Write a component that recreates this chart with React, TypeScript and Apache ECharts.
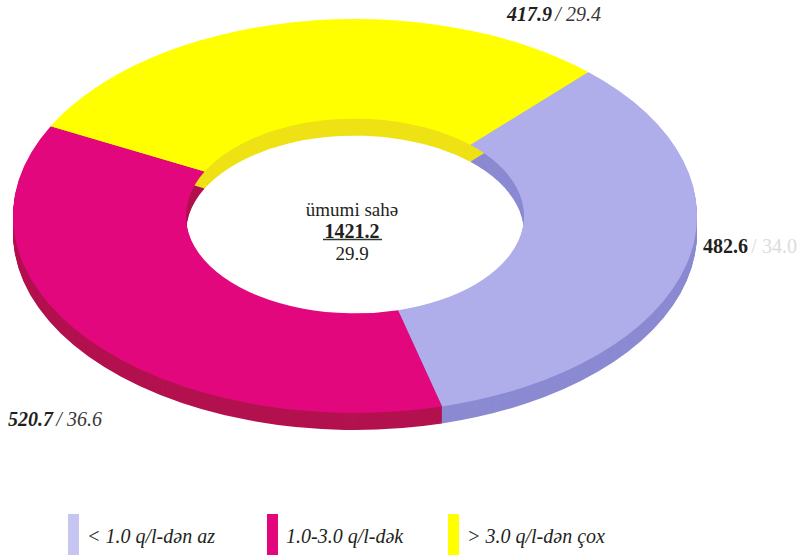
import React, { useEffect, useRef } from "react";
import * as echarts from "echarts";

// ---- data ----
const categories = ["< 1.0 q/l-dən az", "1.0-3.0 q/l-dək", "> 3.0 q/l-dən çox"];
const areas = [482.6, 520.7, 417.9];
const shares = [34.0, 36.6, 29.4];
const totalLabel = "ümumi sahə";
const totalArea = 1421.2;
const totalSecond = "29.9";

// ---- styles ----
const topColors = ["#b0aeea", "#e2077d", "#ffff00"];
const sideColors = ["#8b8ad2", "#b3114f", "#eee215"];
const legendColors = ["#c6c4f0", "#e2077d", "#ffff00"];
const FONT = "'Liberation Serif', 'Times New Roman', serif";

const CX = 355;
const CY = 216;
const R = 342;
const R0 = 169;
const SY = 0.576;
const DEPTH = 17;
const START_DEG = -47;

export default function App() {
  const ref = useRef<HTMLDivElement>(null);

  useEffect(() => {
    if (!ref.current) return;
    const chart = echarts.init(ref.current, null, { renderer: "svg" });
    const sum = areas.reduce((a, b) => a + b, 0);
    let before = 0;
    const series = areas.map((v, i) => {
      const b = before;
      before += v;
      return {
        type: "custom",
        name: categories[i],
        coordinateSystem: "none",
        itemStyle: { color: legendColors[i] },
        data: [[v, b, sum]],
        renderItem: (params: any, api: any) => {
          const val = api.value(0);
          const bef = api.value(1);
          const tot = api.value(2);
          const a0 = ((START_DEG + (bef / tot) * 360) * Math.PI) / 180;
          const a1 = a0 + (val / tot) * 2 * Math.PI;
          const shape = { cx: 0, cy: 0, r: R, r0: R0, startAngle: a0, endAngle: a1, clockwise: true };
          const children: any[] = [];
          for (let d = DEPTH; d >= 1; d--) {
            children.push({
              type: "sector",
              x: CX,
              y: CY + d,
              scaleY: SY,
              shape,
              style: { fill: sideColors[i] },
              z2: 1,
              silent: true,
            });
          }
          children.push({
            type: "sector",
            x: CX,
            y: CY,
            scaleY: SY,
            shape,
            style: { fill: topColors[i] },
            z2: 10,
          });
          return { type: "group", children };
        },
      };
    });

    const legendLeft = [63, 262, 443];
    const legend = categories.map((name, i) => ({
      data: [name],
      left: legendLeft[i],
      top: 509,
      icon: "rect",
      itemWidth: 11,
      itemHeight: 44,
      selectedMode: false,
      textStyle: {
        fontFamily: FONT,
        fontStyle: "italic",
        fontSize: 20,
        color: "#231f20",
        padding: [10, 0, 0, 3],
      },
    }));

    const fmt = (n: number) => n.toFixed(1);
    const richBI = {
      v: { fontFamily: FONT, fontSize: 20, fontWeight: "bold", fontStyle: "italic", fill: "#231f20" },
      p: { fontFamily: FONT, fontSize: 20, fontStyle: "italic", fill: "#3a3538" },
    };

    const graphic: any[] = [
      {
        type: "text",
        x: 507,
        y: 14,
        style: {
          text: `{v|${fmt(areas[2])}} {p|/ ${fmt(shares[2])}}`,
          rich: richBI,
          verticalAlign: "middle",
          align: "left",
        },
      },
      {
        type: "text",
        x: 703,
        y: 246,
        style: {
          text: `{v|${fmt(areas[0])}} {p|/ ${fmt(shares[0])}}`,
          rich: {
            v: { fontFamily: FONT, fontSize: 20, fontWeight: "bold", fill: "#231f20" },
            p: { fontFamily: FONT, fontSize: 20, fill: "#dcdcdc" },
          },
          verticalAlign: "middle",
          align: "left",
        },
      },
      {
        type: "text",
        x: 8,
        y: 419,
        style: {
          text: `{v|${fmt(areas[1])}} {p|/ ${fmt(shares[1])}}`,
          rich: richBI,
          verticalAlign: "middle",
          align: "left",
        },
      },
      {
        type: "text",
        x: 352,
        y: 209,
        style: {
          text: totalLabel,
          fontFamily: FONT,
          fontSize: 19,
          fill: "#231f20",
          align: "center",
          verticalAlign: "middle",
        },
      },
      {
        type: "text",
        x: 352,
        y: 231,
        style: {
          text: fmt(totalArea),
          fontFamily: FONT,
          fontSize: 20,
          fontWeight: "bold",
          fill: "#231f20",
          align: "center",
          verticalAlign: "middle",
        },
      },
      {
        type: "line",
        shape: { x1: 323, y1: 239.5, x2: 382, y2: 239.5 },
        style: { stroke: "#2c3a2c", lineWidth: 1.5 },
      },
      {
        type: "text",
        x: 352,
        y: 253,
        style: {
          text: totalSecond,
          fontFamily: FONT,
          fontSize: 19,
          fill: "#231f20",
          align: "center",
          verticalAlign: "middle",
        },
      },
    ];

    chart.setOption({
      animation: false,
      backgroundColor: "#ffffff",
      legend,
      series,
      graphic,
    } as any);

    return () => chart.dispose();
  }, []);

  return (
    <div
      ref={ref}
      style={{ width: 803, height: 555, position: "absolute", left: 0, top: 0 }}
    />
  );
}
